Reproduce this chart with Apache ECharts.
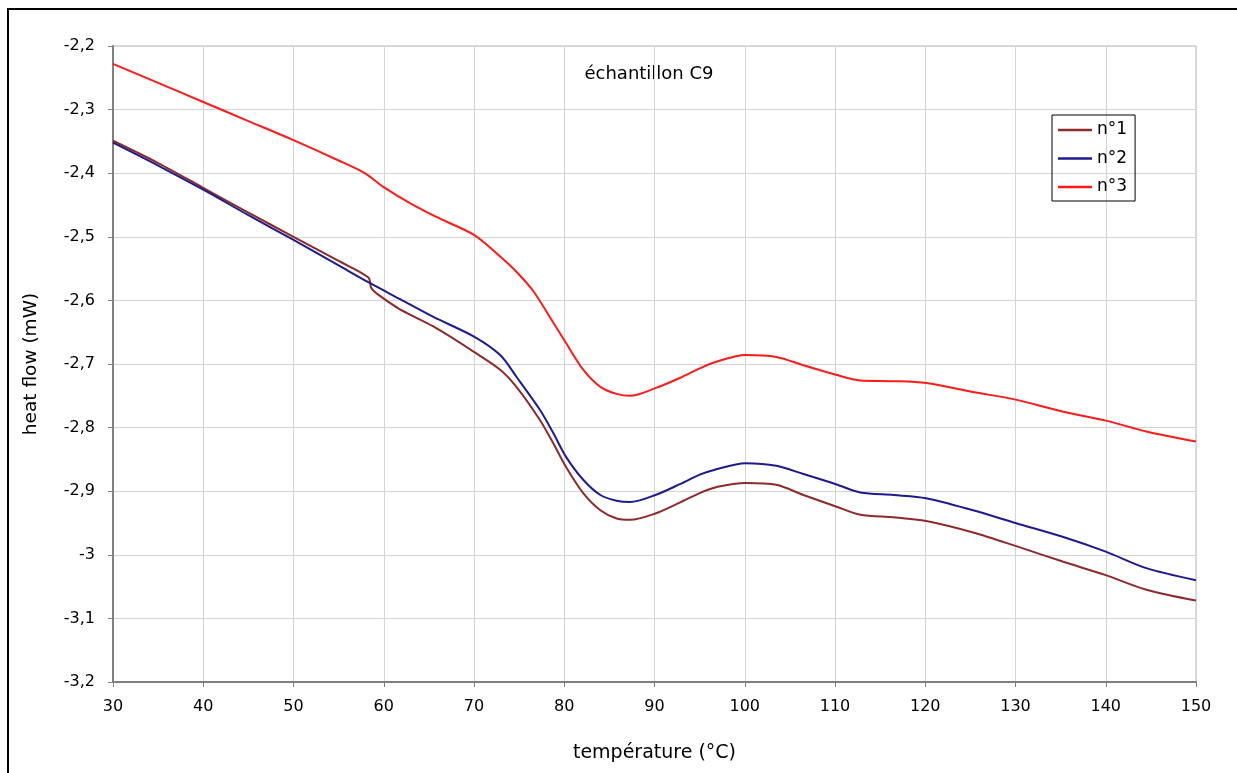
<!DOCTYPE html>
<html>
<head>
<meta charset="utf-8">
<script src="https://cdn.jsdelivr.net/npm/echarts@6/dist/echarts.min.js"></script>
<style>
html,body{margin:0;padding:0;background:#fff;}
#c{width:1237px;height:773px;}
</style>
</head>
<body>
<div id="c"></div>
<script>
var seriesNames = ['n°1', 'n°2', 'n°3'];
var t1 = [30, 35, 40, 45, 50, 55, 58.3, 58.6, 59.2, 61.8, 65.5, 70, 72.9, 74.7, 77.3, 78.8, 80.2, 82.1, 84, 85.8, 87.3, 90.1, 92.8, 95, 97, 100.1, 103.5, 106.5, 110.1, 112.8, 116.5, 120.1, 125.3, 130, 135.3, 140, 144.5, 150];
var v1 = [-2.349, -2.384, -2.423, -2.462, -2.500, -2.538, -2.564, -2.580, -2.589, -2.614, -2.641, -2.681, -2.709, -2.736, -2.788, -2.825, -2.862, -2.903, -2.930, -2.943, -2.945, -2.935, -2.918, -2.903, -2.893, -2.887, -2.890, -2.906, -2.924, -2.937, -2.941, -2.947, -2.965, -2.986, -3.011, -3.032, -3.055, -3.072];
var t2 = [30, 35, 40, 45, 50, 55, 58.5, 61.8, 65.5, 70, 72.9, 74.7, 77.3, 78.8, 80.2, 82.1, 84, 85.8, 87.3, 90.1, 92.8, 95, 96.5, 100.1, 103.5, 106.5, 110.1, 112.8, 116.5, 120.1, 125.3, 130, 135.3, 140, 144.5, 150];
var v2 = [-2.352, -2.388, -2.426, -2.466, -2.505, -2.545, -2.573, -2.598, -2.626, -2.657, -2.686, -2.720, -2.772, -2.809, -2.846, -2.882, -2.906, -2.915, -2.917, -2.906, -2.889, -2.874, -2.867, -2.856, -2.860, -2.873, -2.889, -2.902, -2.906, -2.911, -2.930, -2.950, -2.972, -2.995, -3.021, -3.040];
var t3 = [30, 35, 40, 45, 50, 55, 57.9, 60, 62.9, 66, 70, 72.9, 74.7, 76.6, 78.4, 80.2, 82.1, 84, 85.8, 87.3, 90.1, 92.8, 95, 96.5, 100.1, 103.5, 106.5, 110.1, 112.8, 116.5, 120.1, 125.3, 130, 135.3, 140, 144.5, 150];
var v3 = [-2.228, -2.258, -2.288, -2.318, -2.348, -2.380, -2.400, -2.422, -2.447, -2.470, -2.497, -2.531, -2.555, -2.586, -2.626, -2.667, -2.709, -2.736, -2.747, -2.750, -2.738, -2.722, -2.707, -2.698, -2.686, -2.689, -2.702, -2.717, -2.726, -2.727, -2.730, -2.744, -2.756, -2.775, -2.789, -2.806, -2.822];
var colors = ['#8E2A2A', '#1C1C8E', '#FF1A1A'];
var chartTitle = 'échantillon C9';
var xName = 'température (°C)';
var yName = 'heat flow (mW)';

function pairs(t, v) { return t.map(function (x, i) { return [x, v[i]]; }); }
var FONT = 'DejaVu Sans';
var chart = echarts.init(document.getElementById('c'), null, {renderer: 'canvas'});
var mk = function (name, t, v, c) {
  return {
    name: name, type: 'line', data: pairs(t, v), symbol: 'none',
    smooth: 0.3,
    lineStyle: {color: c, width: 2}, itemStyle: {color: c}, animation: false
  };
};
chart.setOption({
  animation: false,
  backgroundColor: '#fff',
  textStyle: {fontFamily: FONT},
  grid: {left: 113, right: 41, top: 46, bottom: 91, show: true, borderColor: '#b8b8b8', borderWidth: 1},
  graphic: [
    {type: 'rect', shape: {x: 8, y: 9, width: 1300, height: 800}, style: {fill: 'none', stroke: '#000', lineWidth: 2}, silent: true, z: 100},
    {type: 'text', x: 649, y: 74, style: {text: chartTitle, font: '18px "DejaVu Sans"', fill: '#000', align: 'center', verticalAlign: 'middle'}}
  ],
  legend: {
    orient: 'vertical', left: 1052, top: 115,
    padding: [5, 8, 4, 6], itemGap: 8.5, itemWidth: 34, itemHeight: 2.5, icon: 'rect',
    borderColor: '#000', borderWidth: 1,
    textStyle: {fontFamily: FONT, fontSize: 17, color: '#000', lineHeight: 20},
    data: seriesNames
  },
  xAxis: {
    type: 'value', min: 30, max: 150, interval: 10,
    name: xName, nameLocation: 'middle', nameGap: 62,
    nameTextStyle: {fontFamily: FONT, fontSize: 19, color: '#000'},
    axisLine: {onZero: false, lineStyle: {color: '#808080', width: 2}},
    axisTick: {show: true, inside: false, length: 5, lineStyle: {color: '#808080'}},
    axisLabel: {fontFamily: FONT, fontSize: 16, color: '#000', margin: 17},
    splitLine: {show: true, lineStyle: {color: '#d4d4d4', width: 1}}
  },
  yAxis: {
    type: 'value', min: -3.2, max: -2.2, interval: 0.1,
    name: yName, nameLocation: 'middle', nameGap: 72, nameRotate: 90,
    nameTextStyle: {fontFamily: FONT, fontSize: 18.5, color: '#000'},
    axisLine: {show: true, onZero: false, lineStyle: {color: '#808080', width: 2}},
    axisTick: {show: true, inside: false, length: 5, lineStyle: {color: '#808080'}},
    axisLabel: {fontFamily: FONT, fontSize: 16, color: '#000', margin: 18,
      formatter: function (v) { return String(Math.round(v * 10) / 10).replace('.', ','); }},
    splitLine: {show: true, lineStyle: {color: '#d4d4d4', width: 1}}
  },
  series: [mk(seriesNames[0], t1, v1, colors[0]), mk(seriesNames[1], t2, v2, colors[1]), mk(seriesNames[2], t3, v3, colors[2])]
});
</script>
</body>
</html>
